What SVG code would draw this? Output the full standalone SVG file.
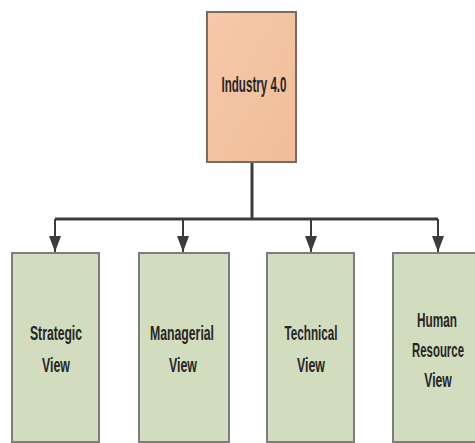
<svg xmlns="http://www.w3.org/2000/svg" width="475" height="443" viewBox="0 0 475 443">
<style>
.lbl{font-family:"Liberation Sans",Arial,sans-serif;font-size:20px;font-weight:bold;fill:#262626;text-anchor:middle}
.view{fill:#d2dcbf;stroke:#7d7d7d;stroke-width:2}
.conn{stroke:#3c3c3c;stroke-width:3;fill:none}
.drop{stroke:#3c3c3c;stroke-width:2;fill:none}
</style>
<defs>
<linearGradient id="peach" x1="0" y1="0" x2="1" y2="1">
<stop offset="0" stop-color="#f6c9aa"/>
<stop offset="1" stop-color="#f1bd98"/>
</linearGradient>
<marker id="arr" markerWidth="16" markerHeight="12" refX="16" refY="6" orient="auto" markerUnits="userSpaceOnUse" viewBox="0 0 16 12">
<path d="M0,0 L16,6 L0,12 Z" fill="#3c3c3c"/>
</marker>
</defs>
<rect width="475" height="443" fill="#ffffff"/>
<g id="connectors">
<line class="conn" x1="252" y1="162" x2="252" y2="219"/>
<line class="conn" x1="55" y1="219" x2="438" y2="219"/>
<path class="drop" d="M55,219 V252" marker-end="url(#arr)"/>
<path class="drop" d="M183,219 V252" marker-end="url(#arr)"/>
<path class="drop" d="M311,219 V252" marker-end="url(#arr)"/>
<path class="drop" d="M438,219 V252" marker-end="url(#arr)"/>
</g>
<g id="industry">
<rect x="207" y="12" width="89" height="150" fill="url(#peach)" stroke="#7a6a62" stroke-width="2"/>
<text class="lbl" x="254" y="92" style="font-size:22px" textLength="65" lengthAdjust="spacingAndGlyphs">Industry 4.0</text>
</g>
<g id="strategic">
<rect class="view" x="12" y="253" width="87" height="189"/>
<text class="lbl" x="56" y="340" textLength="52" lengthAdjust="spacingAndGlyphs">Strategic</text>
<text class="lbl" x="56" y="372" textLength="28" lengthAdjust="spacingAndGlyphs">View</text>
</g>
<g id="managerial">
<rect class="view" x="139" y="253" width="90" height="189"/>
<text class="lbl" x="182" y="340" textLength="64" lengthAdjust="spacingAndGlyphs">Managerial</text>
<text class="lbl" x="183" y="372" textLength="28" lengthAdjust="spacingAndGlyphs">View</text>
</g>
<g id="technical">
<rect class="view" x="267" y="253" width="87" height="189"/>
<text class="lbl" x="311" y="340" textLength="53" lengthAdjust="spacingAndGlyphs">Technical</text>
<text class="lbl" x="311" y="372" textLength="28" lengthAdjust="spacingAndGlyphs">View</text>
</g>
<g id="human">
<rect class="view" x="393" y="253" width="90" height="189"/>
<text class="lbl" transform="translate(437,327) scale(0.59,1)">Human</text>
<text class="lbl" transform="translate(438,357) scale(0.57,1)">Resource</text>
<text class="lbl" transform="translate(438,387) scale(0.61,1)">View</text>
</g>
</svg>
